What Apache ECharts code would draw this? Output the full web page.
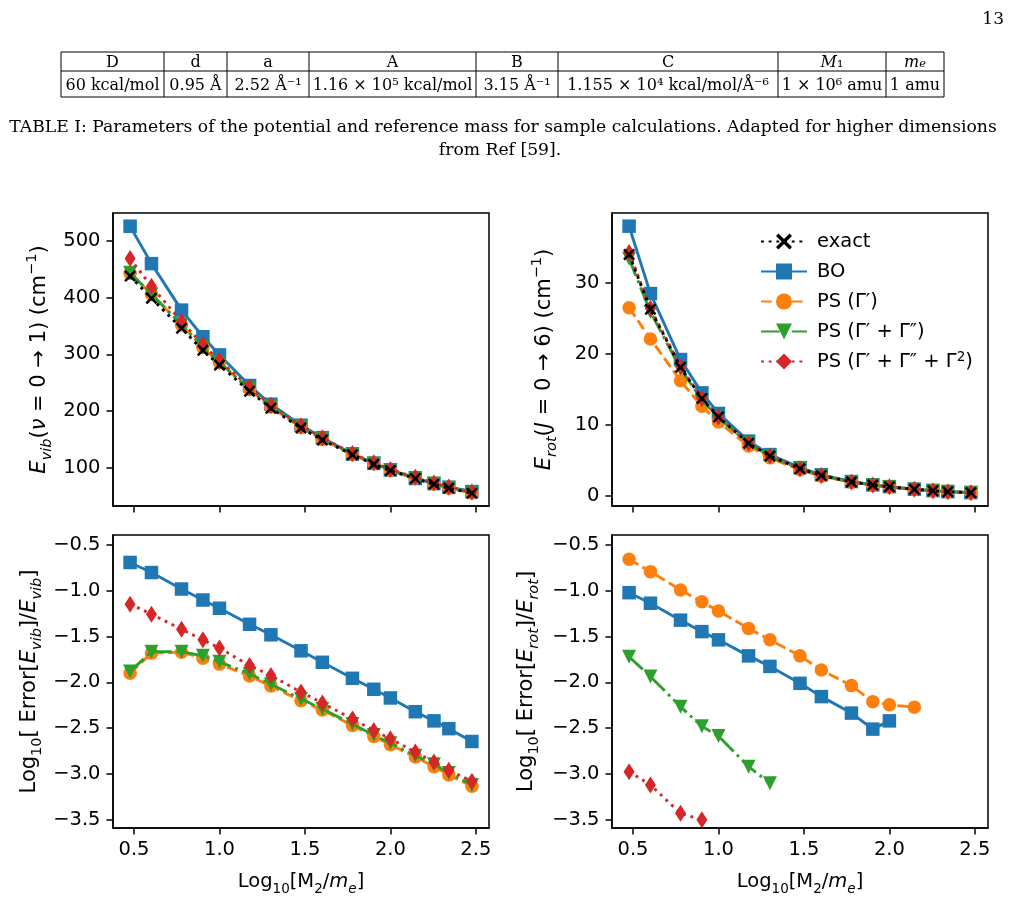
<!DOCTYPE html>
<html>
<head>
<meta charset="utf-8">
<script src="https://cdn.jsdelivr.net/npm/echarts@6/dist/echarts.min.js"></script>
<style>
  html, body { margin: 0; padding: 0; background: #fff; }
  #main { width: 1016px; height: 900px; }
</style>
</head>
<body>
<div id="main"></div>
<script>
// x positions: log10(M2/me)
const logMass = [0.477, 0.602, 0.778, 0.903, 1.0, 1.176, 1.301, 1.477, 1.602, 1.778, 1.903, 2.0, 2.146, 2.255, 2.342, 2.477];

// E_vib (v = 0 -> 1), cm^-1
const vibExact = [438, 399, 346, 307, 281, 235, 205, 170, 149, 123, 106, 95, 81, 71, 64, 55];
const vibBO = [526, 460, 378, 331, 299, 245, 212, 175, 153, 124, 108, 96, 81, 72, 65.5, 58];
const vibPS1 = [443, 406, 352, 312, 285, 238, 207, 171, 150, 123, 107, 95, 81.5, 71.5, 64, 55.5];
const vibPS2 = [444, 406, 353, 313, 286, 239, 208, 172, 151, 124, 107.5, 96, 82, 72, 64.5, 56];
const vibPS3 = [469, 420, 358, 317, 289, 242, 210, 174, 153, 125, 109, 97, 83, 73, 66, 57];

// E_rot (J = 0 -> 6), cm^-1
const rotExact = [34.0, 26.3, 18.1, 13.7, 11.1, 7.4, 5.6, 3.8, 2.85, 1.95, 1.5, 1.25, 0.9, 0.7, 0.56, 0.43];
const rotBO = [38.0, 28.5, 19.2, 14.5, 11.6, 7.7, 5.8, 3.95, 2.95, 2.0, 1.53, 1.28, 0.92, 0.72, 0.57, 0.44];
const rotPS1 = [26.5, 22.1, 16.2, 12.6, 10.4, 7.0, 5.35, 3.65, 2.75, 1.9, 1.45, 1.22, 0.88, 0.69, 0.55, 0.43];
const rotPS2 = [33.4, 25.9, 17.9, 13.5, 11.0, 7.35, 5.55, 3.78, 2.83, 1.94, 1.49, 1.24, 0.89, 0.7, 0.56, 0.43];
const rotPS3 = [34.3, 26.4, 18.2, 13.7, 11.1, 7.4, 5.6, 3.8, 2.85, 1.95, 1.5, 1.25, 0.9, 0.7, 0.56, 0.43];

// log10 relative error, vib
const errVibBO = [-0.69, -0.80, -0.98, -1.10, -1.19, -1.365, -1.48, -1.655, -1.78, -1.955, -2.075, -2.17, -2.32, -2.42, -2.505, -2.645];
const errVibPS1 = [-1.90, -1.68, -1.67, -1.735, -1.80, -1.93, -2.04, -2.20, -2.30, -2.47, -2.59, -2.68, -2.815, -2.92, -3.01, -3.135];
const errVibPS2 = [-1.88, -1.665, -1.665, -1.71, -1.775, -1.905, -2.02, -2.18, -2.29, -2.455, -2.575, -2.665, -2.80, -2.895, -2.99, -3.12];
const errVibPS3 = [-1.145, -1.255, -1.42, -1.535, -1.625, -1.815, -1.925, -2.105, -2.225, -2.40, -2.525, -2.615, -2.76, -2.87, -2.96, -3.08];

// log10 relative error, rot
const errRotBO = [-1.02, -1.135, -1.32, -1.445, -1.535, -1.71, -1.825, -2.01, -2.155, -2.335, -2.51, -2.42];
const errRotPS1 = [-0.655, -0.79, -0.99, -1.12, -1.22, -1.41, -1.535, -1.71, -1.865, -2.035, -2.21, -2.245, -2.27];
const errRotPS2 = [-1.72, -1.935, -2.265, -2.48, -2.585, -2.92, -3.10];
const errRotPS3 = [-2.975, -3.12, -3.43, -3.5];

// tick labels
const xTicks = [0.5, 1.0, 1.5, 2.0, 2.5];
const vibTicks = [100, 200, 300, 400, 500];
const rotTicks = [0, 10, 20, 30];
const errTicks = [-3.5, -3.0, -2.5, -2.0, -1.5, -1.0, -0.5];

// table above the figure
const tableHead = ['D', 'd', 'a', 'A', 'B', 'C', '{i|M}₁', '{i|m}{si|e}'];
const tableVals = ['60 kcal/mol', '0.95 Å', '2.52 Å⁻¹', '1.16 × 10⁵ kcal/mol', '3.15 Å⁻¹',
  '1.155 × 10⁴ kcal/mol/Å⁻⁶', '1 × 10⁶ amu', '1 amu'];

const names = ['exact', 'BO', 'PS (Γ′)', 'PS (Γ′ + Γ″)', 'PS (Γ′ + Γ″ + Γ²)'];

const crossPath = 'path://M1.5,0L5,3.5L8.5,0L10,1.5L6.5,5L10,8.5L8.5,10L5,6.5L1.5,10L0,8.5L3.5,5L0,1.5Z';
const triPath = 'path://M0,0L10,0L5,9Z';
const diaPath = 'path://M5,0L10,8L5,16L0,8Z';

const lw = 2.9;
const styles = {
  'exact': { color: '#000000', symbol: crossPath, size: 12, dash: [1 * lw, 1.65 * lw], z: 8 },
  'BO': { color: '#1f77b4', symbol: 'rect', size: 13.5, dash: 'solid', z: 3 },
  'PS (Γ′)': { color: '#ff7f0e', symbol: 'circle', size: 13.5, dash: [3.7 * lw, 1.6 * lw], z: 4 },
  'PS (Γ′ + Γ″)': { color: '#2ca02c', symbol: triPath, size: 14, dash: [6.4 * lw, 1.6 * lw, 1 * lw, 1.6 * lw], z: 5 },
  'PS (Γ′ + Γ″ + Γ²)': { color: '#d62728', symbol: diaPath, size: [11, 17], dash: [1 * lw, 1.65 * lw], z: 6 }
};

function mkSeries(name, ys, idx) {
  const s = styles[name];
  return {
    name: name, type: 'line', xAxisIndex: idx, yAxisIndex: idx,
    data: ys.map((y, i) => [logMass[i], y]),
    symbol: s.symbol, symbolSize: s.size, showSymbol: true,
    itemStyle: { color: s.color, opacity: 1 },
    lineStyle: { color: s.color, width: lw, type: s.dash, cap: 'butt' },
    z: s.z, clip: true, emphasis: { disabled: true }
  };
}

const font = 'DejaVu Sans';
const fs = 19.5;
function mkRich(size, sub, lh) {
  return {
    n: { fontFamily: font, fontSize: size, color: '#000', lineHeight: lh },
    i: { fontFamily: font, fontSize: size, fontStyle: 'italic', color: '#000', lineHeight: lh },
    s: { fontFamily: font, fontSize: sub, color: '#000', verticalAlign: 'bottom', lineHeight: sub + 3 },
    si: { fontFamily: font, fontSize: sub, fontStyle: 'italic', color: '#000', verticalAlign: 'bottom', lineHeight: sub + 3 },
    sup: { fontFamily: font, fontSize: sub, color: '#000', verticalAlign: 'top', lineHeight: sub + 3 }
  };
}
const xRich = mkRich(fs, 13.5, 28);
const yRich = mkRich(21, 14.5, 30);

const fmt = d => v => v.toFixed(d).replace('-', '−');
const axisColor = { color: '#000', width: 1.5 };

function xAxis(idx, bottomRow) {
  return {
    type: 'value', gridIndex: idx, min: 0.377, max: 2.577,
    name: bottomRow ? '{n|Log}{s|10}{n|[M}{s|2}{n|/}{i|m}{si|e}{n|]}' : '',
    nameLocation: 'middle', nameGap: 40,
    nameTextStyle: { rich: xRich },
    axisLine: { show: true, onZero: false, lineStyle: axisColor },
    axisTick: { show: true, length: 6.5, lineStyle: axisColor, customValues: xTicks },
    axisLabel: { show: bottomRow, fontFamily: font, fontSize: fs, color: '#000', margin: 12, formatter: fmt(1), customValues: xTicks },
    splitLine: { show: false }
  };
}

function yAxis(idx, min, max, ticks, dec, name, gap) {
  return {
    type: 'value', gridIndex: idx, min: min, max: max,
    name: name, nameLocation: 'middle', nameGap: gap, nameRotate: 90,
    nameTextStyle: { rich: yRich },
    axisLine: { show: true, onZero: false, lineStyle: axisColor },
    axisTick: { show: true, length: 6.5, lineStyle: axisColor, customValues: ticks },
    axisLabel: { show: true, fontFamily: font, fontSize: fs, color: '#000', margin: 12.5, formatter: fmt(dec), customValues: ticks },
    splitLine: { show: false }
  };
}

const gridBox = { show: true, borderColor: '#000', borderWidth: 1.5, backgroundColor: 'transparent' };

// table graphics
const colX = [61, 164, 227, 309, 476, 558, 778, 886, 944];
const rowY = [52, 71, 97];
const serif = 'DejaVu Serif';
const tRich = {
  i: { fontFamily: serif, fontSize: 16, fontStyle: 'italic', fill: '#000' },
  si: { fontFamily: serif, fontSize: 11.5, fontStyle: 'italic', fill: '#000', verticalAlign: 'bottom', lineHeight: 14 }
};
const graphics = [];
rowY.forEach(y => graphics.push({ type: 'line', shape: { x1: colX[0], y1: y, x2: colX[colX.length - 1], y2: y }, style: { stroke: '#000', lineWidth: 1 } }));
colX.forEach(x => graphics.push({ type: 'line', shape: { x1: x, y1: rowY[0], x2: x, y2: rowY[2] }, style: { stroke: '#000', lineWidth: 1 } }));
for (let c = 0; c < tableHead.length; c++) {
  const cx = (colX[c] + colX[c + 1]) / 2;
  graphics.push({ type: 'text', x: cx, y: (rowY[0] + rowY[1]) / 2 + 1, style: { text: tableHead[c], rich: tRich, font: '16px "DejaVu Serif"', fill: '#000', align: 'center', verticalAlign: 'middle' } });
  graphics.push({ type: 'text', x: cx, y: (rowY[1] + rowY[2]) / 2 + 2, style: { text: tableVals[c], font: '16px "DejaVu Serif"', fill: '#000', align: 'center', verticalAlign: 'middle' } });
}
graphics.push({ type: 'text', x: 503, y: 128, style: { text: 'TABLE I: Parameters of the potential and reference mass for sample calculations. Adapted for higher dimensions', font: '17.2px "DejaVu Serif"', fill: '#000', align: 'center', verticalAlign: 'middle' } });
graphics.push({ type: 'text', x: 500, y: 151, style: { text: 'from Ref [59].', font: '17.2px "DejaVu Serif"', fill: '#000', align: 'center', verticalAlign: 'middle' } });
graphics.push({ type: 'text', x: 1004, y: 20, style: { text: '13', font: '17px "DejaVu Serif"', fill: '#000', align: 'right', verticalAlign: 'middle' } });

const chart = echarts.init(document.getElementById('main'), null, { renderer: 'canvas' });
chart.setOption({
  backgroundColor: '#fff',
  animation: false,
  graphic: graphics,
  legend: {
    data: names, orient: 'vertical', left: 755, top: 225,
    itemWidth: 46, itemHeight: 20, itemGap: 7,
    formatter: n => n === 'PS (Γ′ + Γ″ + Γ²)' ? '{n|PS (Γ′ + Γ″ + Γ}{sup|2}{n|)}' : n,
    textStyle: {
      fontFamily: font, fontSize: fs, color: '#000', lineHeight: 23, padding: [0, 0, 0, 5],
      rich: {
        n: { fontFamily: font, fontSize: fs, color: '#000', lineHeight: 23 },
        sup: { fontFamily: font, fontSize: 13.5, color: '#000', verticalAlign: 'top', lineHeight: 16 }
      }
    },
    selectedMode: false
  },
  grid: [
    Object.assign({ left: 113, top: 213, width: 376, height: 293 }, gridBox),
    Object.assign({ left: 612, top: 213, width: 376, height: 293 }, gridBox),
    Object.assign({ left: 113, top: 535, width: 376, height: 293 }, gridBox),
    Object.assign({ left: 612, top: 535, width: 376, height: 293 }, gridBox)
  ],
  xAxis: [xAxis(0, false), xAxis(1, false), xAxis(2, true), xAxis(3, true)],
  yAxis: [
    yAxis(0, 32.5, 549.3, vibTicks, 0, '{i|E}{si|vib}{n|(}{i|ν}{n| = 0 → 1) (cm}{sup|−1}{n|)}', 58),
    yAxis(1, -1.45, 39.86, rotTicks, 0, '{i|E}{si|rot}{n|(}{i|J}{n| = 0 → 6) (cm}{sup|−1}{n|)}', 52),
    yAxis(2, -3.59, -0.39, errTicks, 1, '{n|Log}{s|10}{n|[ Error[}{i|E}{si|vib}{n|]/}{i|E}{si|vib}{n|]}', 68),
    yAxis(3, -3.59, -0.39, errTicks, 1, '{n|Log}{s|10}{n|[ Error[}{i|E}{si|rot}{n|]/}{i|E}{si|rot}{n|]}', 70)
  ],
  series: [
    mkSeries('BO', vibBO, 0),
    mkSeries('PS (Γ′)', vibPS1, 0),
    mkSeries('PS (Γ′ + Γ″)', vibPS2, 0),
    mkSeries('PS (Γ′ + Γ″ + Γ²)', vibPS3, 0),
    mkSeries('exact', vibExact, 0),
    mkSeries('BO', rotBO, 1),
    mkSeries('PS (Γ′)', rotPS1, 1),
    mkSeries('PS (Γ′ + Γ″)', rotPS2, 1),
    mkSeries('PS (Γ′ + Γ″ + Γ²)', rotPS3, 1),
    mkSeries('exact', rotExact, 1),
    mkSeries('BO', errVibBO, 2),
    mkSeries('PS (Γ′)', errVibPS1, 2),
    mkSeries('PS (Γ′ + Γ″)', errVibPS2, 2),
    mkSeries('PS (Γ′ + Γ″ + Γ²)', errVibPS3, 2),
    mkSeries('BO', errRotBO, 3),
    mkSeries('PS (Γ′)', errRotPS1, 3),
    mkSeries('PS (Γ′ + Γ″)', errRotPS2, 3),
    mkSeries('PS (Γ′ + Γ″ + Γ²)', errRotPS3, 3)
  ]
});
</script>
</body>
</html>
